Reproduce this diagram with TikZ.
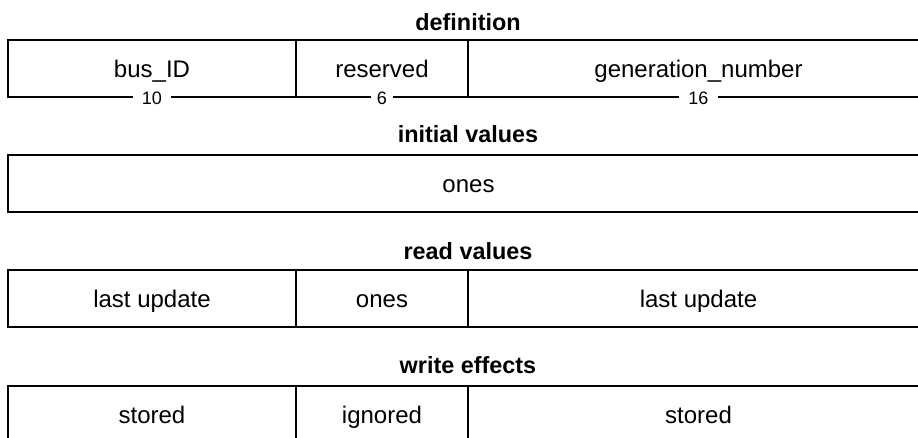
\documentclass[tikz,border=0pt]{standalone}
\usepackage{fontspec}
\setmainfont{Liberation Sans}
\begin{document}
\begin{tikzpicture}[x=0.5pt,y=-0.5pt,
  field/.style={draw, line width=1pt, minimum height=28.5pt, inner sep=0pt,
    text height=8.6pt, text depth=0pt, font=\fontsize{12}{14}\selectfont},
  wide/.style={minimum width=460.5pt},
  wbus/.style={minimum width=144pt},
  wres/.style={minimum width=86pt},
  wgen/.style={minimum width=230.5pt},
  title/.style={anchor=base, inner sep=0pt, font=\fontsize{11.7}{14}\selectfont\bfseries},
  bits/.style={fill=white, inner ysep=0pt, inner xsep=4.5pt, text height=6.5pt, text depth=0pt,
    font=\fontsize{9}{11}\selectfont}
]
\useasboundingbox (0,0) rectangle (918,438);
\clip (0,0) rectangle (918,438);

% definition
\node[title] (t-def) at (468,31) {definition};
\node[field,wbus] (def-bus) at (152,68.5) {bus\_ID};
\node[field,wres] (def-res) at (382,68.5) {reserved};
\node[field,wgen] (def-gen) at (698.5,68.5) {generation\_number};
\node[bits] (b-bus) at (def-bus.south) {10};
\node[bits,inner xsep=3pt] (b-res) at (def-res.south) {6};
\node[bits] (b-gen) at (def-gen.south) {16};

% initial values
\node[title] (t-init) at (468,143) {initial values};
\node[field,wide] (init) at (468.5,183.5) {ones};

% read values
\node[title] (t-read) at (468,260) {read values};
\node[field,wbus] (rd-bus) at (152,299) {last update};
\node[field,wres] (rd-res) at (382,299) {ones};
\node[field,wgen] (rd-gen) at (698.5,299) {last update};

% write effects
\node[title] (t-write) at (468,374) {write effects};
\node[field,wbus] (wr-bus) at (152,414.5) {stored};
\node[field,wres] (wr-res) at (382,414.5) {ignored};
\node[field,wgen] (wr-gen) at (698.5,414.5) {stored};
\end{tikzpicture}
\end{document}
